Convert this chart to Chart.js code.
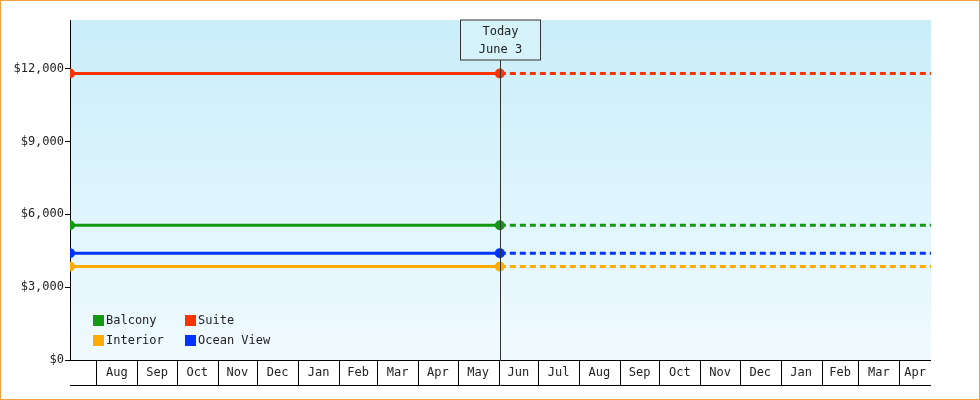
<!DOCTYPE html>
<html><head><meta charset="utf-8">
<script src="https://cdn.jsdelivr.net/npm/chart.js@4"></script>
<style>html,body{margin:0;padding:0;background:#fff}#w{width:980px;height:400px;position:relative}</style>
</head><body><div id="w"><canvas id="c" width="980" height="400"></canvas></div>
<script>
const categories = ["Balcony","Suite","Interior","Ocean View"];
const prices = [5550, 11800, 3850, 4400];
const colors = ["#119911","#ff3300","#ffaa00","#0033ff"];
const startDate = "2023-07-12", todayDate = "2024-06-02", endDate = "2025-04-25";
const todayLabel = ["Today","June 3"];
const monthNames = ["Jan","Feb","Mar","Apr","May","Jun","Jul","Aug","Sep","Oct","Nov","Dec"];
const yTicks = [0,3000,6000,9000,12000];

const day = s => Date.parse(s+"T00:00:00Z")/86400000;
const x0 = day(startDate), xT = day(todayDate), x1 = day(endDate);
const FONT = "'DejaVu Sans Mono', monospace";

const bounds = [];
{ let d = new Date(Date.UTC(2023,7,1));
  while (d.getTime()/86400000 < x1) { bounds.push({v:d.getTime()/86400000, m:d.getUTCMonth()}); d = new Date(Date.UTC(d.getUTCFullYear(), d.getUTCMonth()+1, 1)); } }
const labelMap = {};
const tickList = [];
bounds.forEach((b,i)=>{
  const nxt = i+1<bounds.length ? bounds[i+1].v : x1;
  const mid = (b.v+nxt)/2; labelMap[mid]=monthNames[b.m]; tickList.push({value:mid});
});

const datasets = [];
categories.forEach((c,i)=>{
  datasets.push({label:c, data:[{x:x0,y:prices[i]},{x:xT,y:prices[i]}], borderColor:colors[i], backgroundColor:colors[i], borderWidth:3, pointRadius:3.5, pointHoverRadius:3.5});
  datasets.push({label:c+"_f", data:[{x:xT,y:prices[i]},{x:x1,y:prices[i]}], borderColor:colors[i], borderWidth:3, borderDash:[6,4], pointRadius:0});
});

const deco = {
  id:"deco",
  beforeDraw(ch){
    const {ctx, chartArea:a} = ch;
    const g = ctx.createLinearGradient(0,a.top,0,a.bottom);
    g.addColorStop(0,"#c9eefa"); g.addColorStop(1,"#f0fafe");
    ctx.save(); ctx.fillStyle=g; ctx.fillRect(a.left,a.top,a.right-a.left,a.bottom-a.top); ctx.restore();
  },
  afterDatasetsDraw(ch){
    const {ctx, chartArea:a, scales:{x}} = ch;
    ctx.save();
    const tx = Math.round(x.getPixelForValue(xT))+0.5;
    ctx.strokeStyle="#333"; ctx.lineWidth=1;
    ctx.beginPath(); ctx.moveTo(tx,a.top); ctx.lineTo(tx,a.bottom); ctx.stroke();
    ctx.font="12px "+FONT; ctx.textAlign="center"; ctx.textBaseline="middle";
    const bw=80,bh=40;
    ctx.fillStyle="#d6f2fb"; ctx.fillRect(tx-bw/2,a.top,bw,bh);
    ctx.strokeRect(tx-bw/2,a.top,bw,bh);
    ctx.fillStyle="#222"; ctx.fillText(todayLabel[0],tx,a.top+12); ctx.fillText(todayLabel[1],tx,a.top+30);
    ctx.textAlign="left";
    const order=[[0,1],[2,3]];
    order.forEach((row,r)=>row.forEach((k,cI)=>{
      const lx=a.left+23+cI*92, ly=a.bottom-40+r*20;
      ctx.fillStyle=colors[k]; ctx.fillRect(lx,ly-5,11,11);
      ctx.fillStyle="#222"; ctx.fillText(categories[k],lx+13,ly+1);
    }));
    ctx.strokeStyle="#000";
    ctx.beginPath(); ctx.moveTo(a.left,a.bottom+25.5); ctx.lineTo(a.right,a.bottom+25.5);
    ctx.moveTo(a.left,a.bottom+0.5); ctx.lineTo(a.right,a.bottom+0.5);
    bounds.forEach(b=>{const p=Math.round(x.getPixelForValue(b.v))+0.5; ctx.moveTo(p,a.bottom); ctx.lineTo(p,a.bottom+25);});
    ctx.stroke();
    ctx.textAlign="center"; ctx.fillStyle="#222";
    tickList.forEach(t=>{ ctx.fillText(labelMap[t.value], x.getPixelForValue(t.value), a.bottom+13); });
    ctx.restore();
  },
  afterDraw(ch){
    const ctx=ch.ctx; ctx.save(); ctx.strokeStyle="#f5a040"; ctx.lineWidth=1; ctx.strokeRect(0.5,0.5,979,399); ctx.restore();
  }
};

new Chart(document.getElementById("c"),{
  type:"line",
  data:{datasets},
  options:{
    responsive:false, animation:false, events:[],
    layout:{padding:{top:20,right:49,left:0,bottom:0}},
    plugins:{legend:{display:false},tooltip:{enabled:false}},
    scales:{
      x:{type:"linear", min:x0, max:x1, grid:{display:false}, border:{display:false},
         ticks:{display:false}, afterFit(s){s.height=40;}},
      y:{min:0, max:14000, afterBuildTicks(s){s.ticks=yTicks.map(v=>({value:v}));},
         grid:{drawOnChartArea:false, color:"#000", tickLength:5},
         border:{display:true,color:"#000",width:1},
         ticks:{color:"#222", font:{family:FONT,size:12}, padding:1, callback:v=>"$"+v.toLocaleString("en-US")},
         afterFit(s){s.width=70;}}
    }
  },
  plugins:[deco]
});
</script></body></html>
